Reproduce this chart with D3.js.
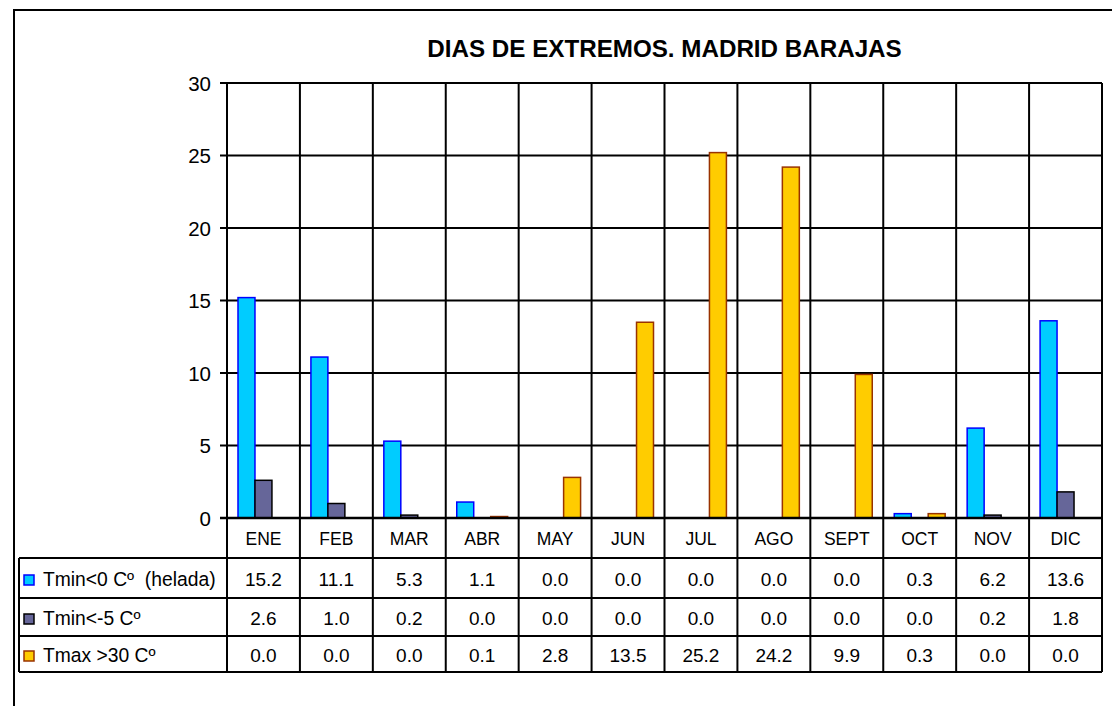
<!DOCTYPE html>
<html>
<head>
<meta charset="utf-8">
<script src="https://cdn.jsdelivr.net/npm/d3@7"></script>
<style>
  body { margin: 0; background: #fff; }
  text { font-family: "Liberation Sans", Arial, sans-serif; fill: #000; }
</style>
</head>
<body>
<div id="chart"></div>
<script>
const months = ['ENE', 'FEB', 'MAR', 'ABR', 'MAY', 'JUN', 'JUL', 'AGO', 'SEPT', 'OCT', 'NOV', 'DIC'];
const series_names = ['Tmin<0 Cº  (helada)', 'Tmin<-5 Cº', 'Tmax >30 Cº'];
const helada = [15.2, 11.1, 5.3, 1.1, 0.0, 0.0, 0.0, 0.0, 0.0, 0.3, 6.2, 13.6];
const bajo_5 = [2.6, 1.0, 0.2, 0.0, 0.0, 0.0, 0.0, 0.0, 0.0, 0.0, 0.2, 1.8];
const sobre_30 = [0.0, 0.0, 0.0, 0.1, 2.8, 13.5, 25.2, 24.2, 9.9, 0.3, 0.0, 0.0];
const y_ticks = [0, 5, 10, 15, 20, 25, 30];

const series_values = [helada, bajo_5, sobre_30];
const fills = ['#00CCFF', '#666699', '#FFCC00'];
const strokes = ['#0000FF', '#000000', '#993300'];

const width = 1112, height = 706;
const plot = {left: 227, right: 1102, top: 83, bottom: 518};
const row_lines = [558, 598, 636, 672];
const row_baselines = [586, 625, 662];
const table_left = 19;
const line_w = 2;

const svg = d3.select('#chart').append('svg')
    .attr('width', width)
    .attr('height', height);

// outer frame
svg.append('rect')
    .attr('x', 14).attr('y', 10)
    .attr('width', 1200).attr('height', 800)
    .attr('fill', 'none')
    .attr('stroke', '#000')
    .attr('stroke-width', line_w);

svg.append('text')
    .attr('x', (plot.left + plot.right) / 2)
    .attr('y', 57)
    .attr('text-anchor', 'middle')
    .attr('font-size', '24.2px')
    .attr('font-weight', 'bold')
    .text('DIAS DE EXTREMOS. MADRID BARAJAS');

const x_scale = d3.scaleBand()
    .domain(months)
    .range([plot.left, plot.right]);

const bar_scale = d3.scaleBand()
    .domain(d3.range(series_names.length))
    .range([11, x_scale.bandwidth() - 11]);

const y_scale = d3.scaleLinear()
    .domain([0, 30])
    .range([plot.bottom, plot.top]);

// horizontal gridlines + tick marks (zero line drawn later, over the bars)
svg.append('g')
    .selectAll('line')
    .data(y_ticks.filter(d => d > 0))
    .enter()
    .append('line')
    .attr('x1', plot.left - 7)
    .attr('x2', plot.right)
    .attr('y1', d => y_scale(d))
    .attr('y2', d => y_scale(d))
    .attr('stroke', '#000')
    .attr('stroke-width', line_w);

// y labels
svg.append('g')
    .selectAll('text')
    .data(y_ticks)
    .enter()
    .append('text')
    .attr('x', 211)
    .attr('y', d => y_scale(d) + 7.5)
    .attr('text-anchor', 'end')
    .attr('font-size', '20.5px')
    .text(d => d);

// vertical lines: category boundaries, through plot and table
let bounds = months.map(m => x_scale(m)).concat([plot.right]);
svg.append('g')
    .selectAll('line')
    .data(bounds)
    .enter()
    .append('line')
    .attr('x1', d => d).attr('x2', d => d)
    .attr('y1', plot.top).attr('y2', row_lines[row_lines.length - 1])
    .attr('stroke', '#000')
    .attr('stroke-width', line_w);

// table horizontal lines and left edge
svg.append('g')
    .selectAll('line')
    .data(row_lines)
    .enter()
    .append('line')
    .attr('x1', table_left).attr('x2', plot.right)
    .attr('y1', d => d).attr('y2', d => d)
    .attr('stroke', '#000')
    .attr('stroke-width', line_w);

svg.append('line')
    .attr('x1', table_left).attr('x2', table_left)
    .attr('y1', row_lines[0]).attr('y2', row_lines[row_lines.length - 1])
    .attr('stroke', '#000')
    .attr('stroke-width', line_w);

// bars
series_values.forEach(function (vals, s) {
    let pts = months.map((m, i) => ({month: m, value: vals[i]})).filter(d => d.value > 0);
    svg.append('g')
        .selectAll('rect')
        .data(pts)
        .enter()
        .append('rect')
        .attr('x', d => x_scale(d.month) + bar_scale(s))
        .attr('y', d => y_scale(d.value))
        .attr('width', bar_scale.bandwidth())
        .attr('height', d => y_scale(0) - y_scale(d.value))
        .attr('fill', fills[s])
        .attr('stroke', strokes[s])
        .attr('stroke-width', 1.5);
});

// category axis line on top of bars
svg.append('line')
    .attr('x1', plot.left - 7).attr('x2', plot.right)
    .attr('y1', y_scale(0)).attr('y2', y_scale(0))
    .attr('stroke', '#000')
    .attr('stroke-width', 2.5);

// category labels
svg.append('g')
    .selectAll('text')
    .data(months)
    .enter()
    .append('text')
    .attr('x', d => x_scale(d) + x_scale.bandwidth() / 2)
    .attr('y', 545)
    .attr('text-anchor', 'middle')
    .attr('font-size', '17.5px')
    .text(d => d);

// table values
series_values.forEach(function (vals, s) {
    svg.append('g')
        .selectAll('text')
        .data(vals)
        .enter()
        .append('text')
        .attr('x', (d, i) => x_scale(months[i]) + x_scale.bandwidth() / 2)
        .attr('y', row_baselines[s])
        .attr('text-anchor', 'middle')
        .attr('font-size', '19px')
        .text(d => d3.format('.1f')(d));
});

// legend keys in the table
let legend = svg.append('g')
    .selectAll('g')
    .data(series_names)
    .enter()
    .append('g')
    .attr('transform', (d, i) => 'translate(0,' + row_baselines[i] + ')');

legend.append('rect')
    .attr('x', 24).attr('y', -11)
    .attr('width', 10).attr('height', 10)
    .attr('fill', (d, i) => fills[i])
    .attr('stroke', (d, i) => strokes[i])
    .attr('stroke-width', 1.5);

legend.append('text')
    .attr('x', 43)
    .attr('y', 0)
    .attr('font-size', '19.3px')
    .style('white-space', 'pre')
    .text(d => d);
</script>
</body>
</html>
